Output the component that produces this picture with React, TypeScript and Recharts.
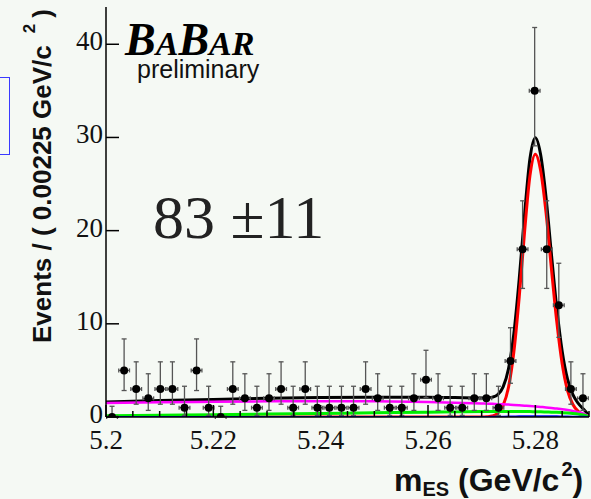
import { ComposedChart, Line, Scatter, XAxis, YAxis, ErrorBar } from "recharts";

// histogram: bin centres (GeV/c^2) and event counts
const binCenters = [
  5.201125, 5.203375, 5.205625, 5.207875, 5.210125, 5.212375, 5.214625, 5.216875,
  5.219125, 5.221375, 5.223625, 5.225875, 5.228125, 5.230375, 5.232625, 5.234875,
  5.237125, 5.239375, 5.241625, 5.243875, 5.246125, 5.248375, 5.250625, 5.252875,
  5.255125, 5.257375, 5.259625, 5.261875, 5.264125, 5.266375, 5.268625, 5.270875,
  5.273125, 5.275375, 5.277625, 5.279875, 5.282125, 5.284375, 5.286625, 5.288875,
];
const counts = [
  0, 5, 3, 2, 3, 3, 1, 5, 1, 0, 3, 2, 1, 2, 3, 1, 3, 1, 1, 1,
  1, 3, 2, 1, 1, 2, 4, 2, 1, 1, 2, 2, 1, 6, 18, 35, 18, 12, 3, 2,
];
// asymmetric poisson errors [down, up] by count
const poissonErr: Record<number, [number, number]> = {
  0: [0, 1.15],
  1: [0.83, 2.3],
  2: [1.29, 2.64],
  3: [1.63, 2.92],
  4: [1.91, 3.16],
  5: [2.16, 3.38],
  6: [2.38, 3.58],
  12: [3.45, 4.5],
  18: [4.2, 5.2],
  35: [5.9, 6.8],
};
const halfBin = 0.001;

// fit curves sampled along m_ES
const curveX = [
  5.2, 5.21, 5.22, 5.23, 5.24, 5.25, 5.26, 5.265, 5.27, 5.271, 5.272, 5.273, 5.274, 5.275,
  5.276, 5.277, 5.278, 5.279, 5.28, 5.281, 5.282, 5.283, 5.284, 5.285, 5.286, 5.287, 5.288,
  5.289, 5.29,
];
const totalY = [
  1.62, 1.76, 1.89, 2.0, 2.08, 2.13, 2.12, 2.08, 2.03, 2.05, 2.13, 2.4, 3.24, 5.18,
  8.96, 14.82, 21.78, 27.74, 29.98, 28.12, 23.55, 17.46, 11.67, 7.06, 4.06, 2.4, 1.46,
  0.83, 0.16,
];
const signalY = [
  0, 0, 0, 0, 0, 0, 0, 0, 0, 0.03, 0.11, 0.4, 1.24, 3.2,
  7.0, 12.9, 19.9, 25.9, 28.2, 26.4, 21.9, 15.9, 10.2, 5.7, 2.84, 1.34, 0.6,
  0.25, 0.08,
];
const combBkgY = [
  1.5, 1.58, 1.64, 1.68, 1.7, 1.68, 1.6, 1.53, 1.45, 1.43, 1.41, 1.38, 1.36, 1.33,
  1.3, 1.26, 1.22, 1.18, 1.13, 1.08, 1.03, 0.97, 0.9, 0.83, 0.74, 0.64, 0.52,
  0.35, 0.05,
];
const bbBkgY = [
  0.12, 0.18, 0.25, 0.32, 0.38, 0.45, 0.52, 0.55, 0.58, 0.58, 0.59, 0.59, 0.6, 0.6,
  0.6, 0.59, 0.59, 0.58, 0.57, 0.56, 0.54, 0.52, 0.5, 0.47, 0.43, 0.38, 0.31,
  0.21, 0.03,
];
const peakBkgY = [
  0, 0, 0, 0, 0, 0, 0, 0, 0, 0.01, 0.02, 0.03, 0.04, 0.05,
  0.06, 0.07, 0.07, 0.08, 0.08, 0.08, 0.08, 0.07, 0.07, 0.06, 0.05, 0.04, 0.03,
  0.02, 0,
];

const xTicks = [
  5.2, 5.205, 5.21, 5.215, 5.22, 5.225, 5.23, 5.235, 5.24, 5.245, 5.25, 5.255, 5.26,
  5.265, 5.27, 5.275, 5.28, 5.285, 5.29,
];
const yTicks = [0, 10, 20, 30, 40];

const points = binCenters.map((x, i) => ({
  x,
  y: counts[i],
  ey: poissonErr[counts[i]],
  ex: halfBin,
}));
const curve = (ys: number[]) => curveX.map((x, i) => ({ x, y: ys[i] }));

const isMajor = (v: number) => Math.abs(v * 50 - Math.round(v * 50)) < 1e-6;
const serif = "'Liberation Serif', 'Times New Roman', serif";
const sans = "'Liberation Sans', Arial, sans-serif";

function BottomTick(props: any) {
  const { x, y, payload } = props;
  const major = isMajor(payload.value);
  return (
    <g>
      <line x1={x} x2={x} y1={y} y2={y - (major ? 12 : 6)} stroke="#000" strokeWidth={1.5} />
      {major && (
        <text x={x} y={y + 32} textAnchor="middle" fontSize={27} fontFamily={serif} fill="#111">
          {String(payload.value)}
        </text>
      )}
    </g>
  );
}

function TopTick(props: any) {
  const { x, y, payload } = props;
  const major = isMajor(payload.value);
  return <line x1={x} x2={x} y1={y} y2={y + (major ? 12 : 6)} stroke="#000" strokeWidth={1.5} />;
}

function LeftTick(props: any) {
  const { x, y, payload } = props;
  return (
    <g>
      <line x1={x} x2={x + 13} y1={y} y2={y} stroke="#000" strokeWidth={1.5} />
      <text x={x - 3} y={y + 6} textAnchor="end" fontSize={27} fontFamily={serif} fill="#111">
        {String(payload.value)}
      </text>
    </g>
  );
}

function RightTick(props: any) {
  const { x, y } = props;
  return <line x1={x} x2={x - 14} y1={y} y2={y} stroke="#000" strokeWidth={1.5} />;
}

function Dot(props: any) {
  return <circle cx={props.cx} cy={props.cy} r={4} fill="#000" />;
}

export default function App() {
  return (
    <div
      style={{
        position: "absolute",
        left: 0,
        top: 0,
        width: 591,
        height: 499,
        background: "#f5f9f4",
        overflow: "hidden",
      }}
    >
      <ComposedChart width={591} height={499} margin={{ top: 7, right: 2, bottom: 0, left: 0 }}>
        <XAxis
          xAxisId="b"
          dataKey="x"
          type="number"
          domain={[5.2, 5.29]}
          allowDataOverflow
          ticks={xTicks}
          interval={0}
          tick={<BottomTick />}
          tickLine={false}
          tickSize={0}
          tickMargin={0}
          height={82}
          axisLine={{ stroke: "#000", strokeWidth: 1.5 }}
        />
        <XAxis
          xAxisId="t"
          orientation="top"
          dataKey="x"
          type="number"
          domain={[5.2, 5.29]}
          allowDataOverflow
          ticks={xTicks}
          interval={0}
          tick={<TopTick />}
          tickLine={false}
          tickSize={0}
          tickMargin={0}
          height={0}
          axisLine={{ stroke: "#000", strokeWidth: 1.5 }}
        />
        <YAxis
          yAxisId="l"
          type="number"
          domain={[0, 44]}
          allowDataOverflow
          ticks={yTicks}
          interval={0}
          tick={<LeftTick />}
          tickLine={false}
          tickSize={0}
          tickMargin={0}
          width={106}
          axisLine={{ stroke: "#000", strokeWidth: 1.5 }}
        />
        <YAxis
          yAxisId="r"
          orientation="right"
          type="number"
          domain={[0, 44]}
          allowDataOverflow
          ticks={yTicks}
          interval={0}
          tick={<RightTick />}
          tickLine={false}
          tickSize={0}
          tickMargin={0}
          width={0}
          axisLine={{ stroke: "#000", strokeWidth: 1.5 }}
        />
        <Line xAxisId="b" yAxisId="l" data={curve(totalY)} dataKey="y" type="monotone" stroke="#000" strokeWidth={3} dot={false} isAnimationActive={false} />
        <Line xAxisId="b" yAxisId="l" data={curve(signalY)} dataKey="y" type="monotone" stroke="#ff0000" strokeWidth={3} dot={false} isAnimationActive={false} />
        <Line xAxisId="b" yAxisId="l" data={curve(combBkgY)} dataKey="y" type="monotone" stroke="#ff00ff" strokeWidth={2.5} dot={false} isAnimationActive={false} />
        <Line xAxisId="b" yAxisId="l" data={curve(bbBkgY)} dataKey="y" type="monotone" stroke="#00ee00" strokeWidth={3} dot={false} isAnimationActive={false} />
        <Line xAxisId="b" yAxisId="l" data={curve(peakBkgY)} dataKey="y" type="monotone" stroke="#0000ff" strokeWidth={2} dot={false} isAnimationActive={false} />
        <Scatter xAxisId="b" yAxisId="l" data={points} dataKey="y" shape={<Dot />} isAnimationActive={false}>
          <ErrorBar dataKey="ey" direction="y" width={2.5} stroke="#555" strokeWidth={1.3} />
          <ErrorBar dataKey="ex" direction="x" width={2} stroke="#555" strokeWidth={1.3} />
        </Scatter>
      </ComposedChart>

      <svg width={591} height={499} style={{ position: "absolute", left: 0, top: 0, pointerEvents: "none" }}>
        <text
          x={51}
          y={343}
          transform="rotate(-90 51 343)"
          fontFamily={sans}
          fontWeight="bold"
          fontSize={26}
          fill="#111"
        >
          Events / ( 0.00225 GeV/c
          <tspan dx={12} dy={-16} fontSize={17}>2</tspan>
          <tspan dx={6} dy={16} fontSize={26}>)</tspan>
        </text>
        <text x={394} y={491} fontFamily={sans} fontWeight="bold" fontSize={32} fill="#111">
          m<tspan dy={5} fontSize={20}>ES</tspan>
          <tspan dy={-5} fontSize={32}> (GeV/c</tspan>
          <tspan dx={2} dy={-15} fontSize={20}>2</tspan>
          <tspan dy={15} fontSize={32}>)</tspan>
        </text>
        <text x={125} y={55} fontFamily={serif} fontStyle="italic" fontWeight="bold" fill="#000">
          <tspan fontSize={46}>B</tspan>
          <tspan fontSize={34}>A</tspan>
          <tspan fontSize={46}>B</tspan>
          <tspan fontSize={34}>AR</tspan>
        </text>
        <text x={137} y={78} fontFamily={sans} fontSize={25} fill="#111">
          preliminary
        </text>
        <text x={153} y={238} fontFamily={serif} fontSize={62} fill="#222">
          83 ±11
        </text>
      </svg>
      <div
        style={{
          position: "absolute",
          left: -6,
          top: 77,
          width: 14,
          height: 76,
          border: "1.5px solid #3a3aff",
        }}
      />
    </div>
  );
}
